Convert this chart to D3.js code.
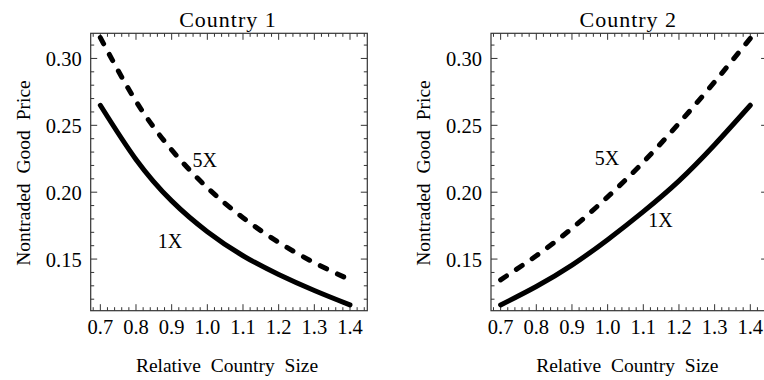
<!DOCTYPE html>
<html>
<head>
<meta charset="utf-8">
<script src="https://cdn.jsdelivr.net/npm/d3@7"></script>
<style>
  body { margin: 0; background: #fff; }
</style>
</head>
<body>
<svg id="chart" width="764" height="380"></svg>
<script>
// values
var sizes = [0.7, 0.8, 0.9, 1.0, 1.1, 1.2, 1.3, 1.4];
var country1_1X = [0.265, 0.2245, 0.1935, 0.1705, 0.1525, 0.1385, 0.1265, 0.1157];
var country1_5X = [0.3156, 0.268, 0.2316, 0.2034, 0.1809, 0.1625, 0.1473, 0.1345];
var country2_1X = [0.1157, 0.1295, 0.1455, 0.1645, 0.1855, 0.2085, 0.2355, 0.265];
var country2_5X = [0.1345, 0.1525, 0.173, 0.1965, 0.2225, 0.2515, 0.2825, 0.315];

var titles = ["Country 1", "Country 2"];
var xTicks = [0.7, 0.8, 0.9, 1.0, 1.1, 1.2, 1.3, 1.4];
var yTicks = [0.15, 0.20, 0.25, 0.30];
var xLabel = "Relative Country Size";
var yLabel = "Nontraded Good Price";

// label anchors in data units: [panel, text, x, y]
var curveLabels = [
    [0, "5X", 0.993, 0.219],
    [0, "1X", 0.895, 0.1585],
    [1, "5X", 0.998, 0.220],
    [1, "1X", 1.148, 0.1742]
];

var panels = [
    {title: titles[0], solid: country1_1X, dashed: country1_5X},
    {title: titles[1], solid: country2_1X, dashed: country2_5X}
];

var serif = "'Liberation Serif', Tinos, 'Times New Roman', Times, 'DejaVu Serif', serif";

function render() {
    var svg = d3.select("#chart");
    var left = 90.7, right = 367.3, top = 33.3, bottom = 310.7;
    var panelShift = 400.3;
    var frameColor = "#333";

    var xs = d3.scaleLinear().domain([0.673, 1.4485]).range([left, right]);
    var ys = d3.scaleLinear().domain([0.1114, 0.3188]).range([bottom, top]);

    var line = function(vals) {
        return d3.line()
            .x(function(d, i) { return xs(sizes[i]); })
            .y(function(d) { return ys(d); })
            .curve(d3.curveNatural)(vals);
    };

    var xMinor = d3.range(0.68, 1.45, 0.02);
    var yMinor = d3.range(0.12, 0.32, 0.01);

    panels.forEach(function(p, k) {
        var g = svg.append("g")
            .attr("transform", "translate(" + (k * panelShift) + ",0)")
            .attr("font-family", serif);

        // ticks on all four sides, pointing inward
        yMinor.forEach(function(v) {
            var major = yTicks.some(function(t) { return Math.abs(t - v) < 1e-6; });
            var len = major ? 6.5 : 3.5;
            g.append("line").attr("x1", left).attr("x2", left + len)
                .attr("y1", ys(v)).attr("y2", ys(v))
                .attr("stroke", frameColor).attr("stroke-width", 1);
            g.append("line").attr("x1", right).attr("x2", right - len)
                .attr("y1", ys(v)).attr("y2", ys(v))
                .attr("stroke", frameColor).attr("stroke-width", 1);
        });
        xMinor.forEach(function(v) {
            var major = xTicks.some(function(t) { return Math.abs(t - v) < 1e-6; });
            var len = major ? 6.5 : 3.5;
            g.append("line").attr("y1", bottom).attr("y2", bottom - len)
                .attr("x1", xs(v)).attr("x2", xs(v))
                .attr("stroke", frameColor).attr("stroke-width", 1);
            g.append("line").attr("y1", top).attr("y2", top + len)
                .attr("x1", xs(v)).attr("x2", xs(v))
                .attr("stroke", frameColor).attr("stroke-width", 1);
        });

        g.append("rect")
            .attr("x", left).attr("y", top)
            .attr("width", right - left).attr("height", bottom - top)
            .attr("fill", "none").attr("stroke", frameColor).attr("stroke-width", 1.2);

        g.selectAll(".ylab").data(yTicks).enter().append("text")
            .attr("x", left - 9)
            .attr("y", function(d) { return ys(d) + 8; })
            .attr("text-anchor", "end")
            .attr("font-size", 20.5)
            .text(function(d) { return d3.format(".2f")(d); });

        g.selectAll(".xlab").data(xTicks).enter().append("text")
            .attr("x", function(d) { return xs(d); })
            .attr("y", bottom + 23)
            .attr("text-anchor", "middle")
            .attr("font-size", 20.5)
            .text(function(d) { return d3.format(".1f")(d); });

        g.append("text")
            .attr("x", (left + right) / 2 - 1).attr("y", 27)
            .attr("text-anchor", "middle")
            .attr("font-size", 22).attr("letter-spacing", 1)
            .text(p.title);

        g.append("text")
            .attr("x", (left + right) / 2 - 2).attr("y", 372)
            .attr("text-anchor", "middle")
            .attr("font-size", 19.5).attr("word-spacing", 5)
            .text(xLabel);

        g.append("text")
            .attr("transform", "translate(30," + ((top + bottom) / 2 + 1) + ") rotate(-90)")
            .attr("text-anchor", "middle")
            .attr("font-size", 19.5).attr("word-spacing", 5)
            .text(yLabel);

        g.append("path")
            .attr("d", line(p.solid))
            .attr("fill", "none").attr("stroke", "#000")
            .attr("stroke-width", 5).attr("stroke-linecap", "round");

        g.append("path")
            .attr("d", line(p.dashed))
            .attr("fill", "none").attr("stroke", "#000")
            .attr("stroke-width", 5).attr("stroke-linecap", "round")
            .attr("stroke-dasharray", "7,12");

        curveLabels.filter(function(c) { return c[0] == k; }).forEach(function(c) {
            g.append("text")
                .attr("x", xs(c[2])).attr("y", ys(c[3]))
                .attr("text-anchor", "middle")
                .attr("font-size", 20)
                .text(c[1]);
        });
    });
}

render();
</script>
</body>
</html>
